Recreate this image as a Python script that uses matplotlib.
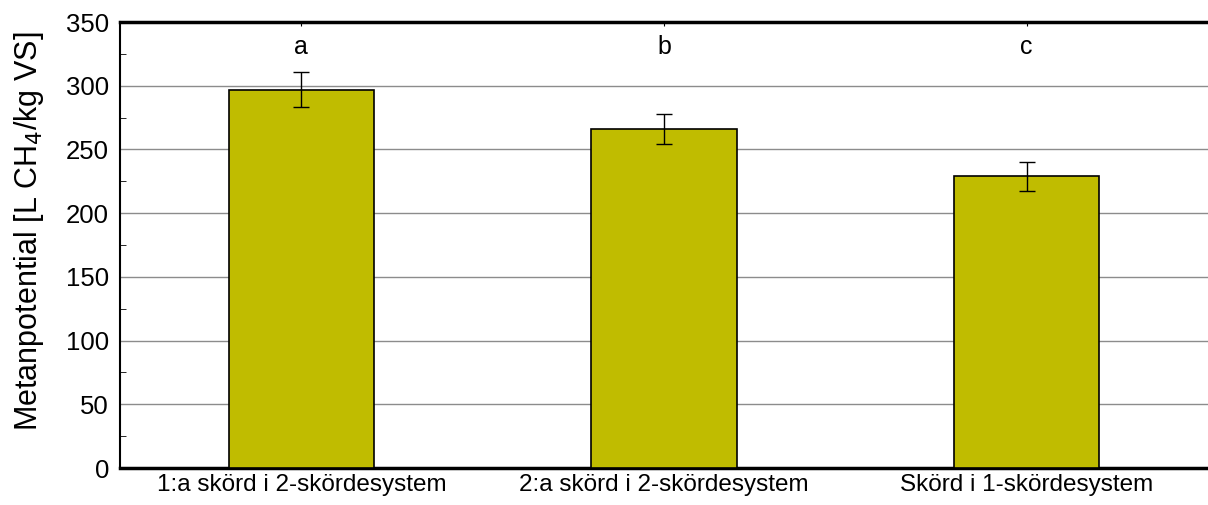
import matplotlib.pyplot as plt
import numpy as np

plt.rcParams['font.family'] = ['Liberation Sans', 'DejaVu Sans']

categories = ['1:a skörd i 2-skördesystem', '2:a skörd i 2-skördesystem', 'Skörd i 1-skördesystem']
values = [297, 266, 229]
errors = [14, 11.5, 11.5]
letters = ['a', 'b', 'c']
letter_y = 330

fig = plt.figure(figsize=(12.08, 5.05), dpi=100)
ax = fig.add_axes([120 / 1208, 37 / 505, 1088 / 1208, 446 / 505])

x = np.arange(len(categories))
ax.bar(x, values, width=0.4, color='#C0BC00', edgecolor='black', linewidth=1.2, zorder=3)
ax.errorbar(x, values, yerr=errors, fmt='none', ecolor='black', elinewidth=1,
            capsize=6, capthick=1, zorder=4)
for xi, lab in zip(x, letters):
    ax.text(xi, letter_y, lab, ha='center', va='center', fontsize=18)

ax.set_xlim(-0.5, 2.5)
ax.set_ylim(0, 350)
ax.set_yticks(np.arange(0, 351, 50))
ax.set_yticks(np.arange(25, 350, 50), minor=True)
ax.set_xticks(x)
ax.set_xticklabels(categories)
ax.yaxis.grid(True, color='#8c8c8c', linewidth=1, zorder=0)
ax.tick_params(axis='y', which='both', direction='in', labelsize=18.5, pad=8)
ax.tick_params(axis='y', which='major', length=0)
ax.tick_params(axis='y', which='minor', length=4)
ax.tick_params(axis='x', which='both', direction='in', length=3, top=True, labelsize=17.5, pad=4)

ax.spines['right'].set_visible(False)
ax.spines['left'].set_linewidth(1.5)
ax.spines['top'].set_linewidth(2.5)
ax.spines['bottom'].set_linewidth(2.5)

ax.set_ylabel('Metanpotential [L CH$_4$/kg VS]', fontsize=22)
ax.yaxis.set_label_coords(-0.068, 0.531)

fig.savefig('out.png', dpi=100)
